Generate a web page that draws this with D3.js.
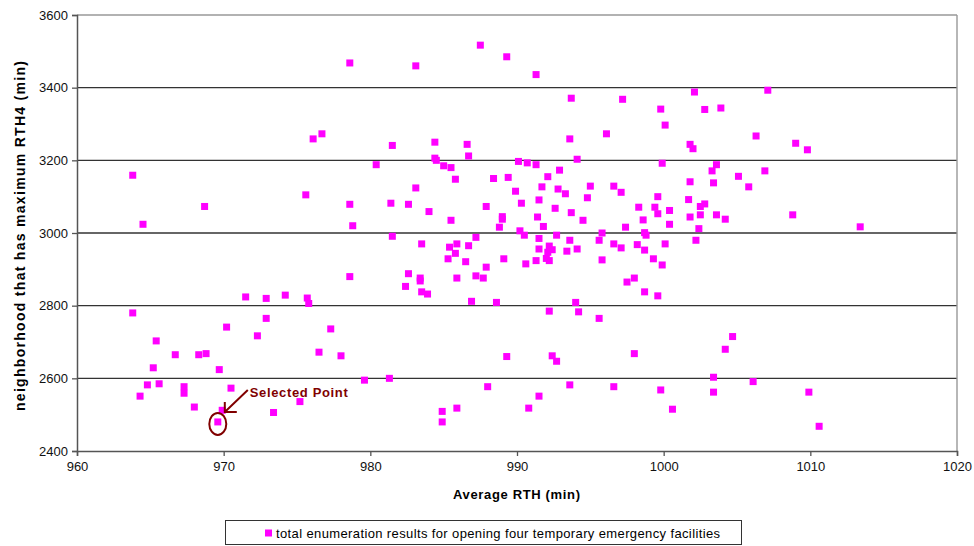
<!DOCTYPE html>
<html>
<head>
<meta charset="utf-8">
<script src="https://cdn.jsdelivr.net/npm/d3@7"></script>
<style>
  body { margin: 0; background: #fff; }
  svg { display: block; font-family: "Liberation Sans", Arial, sans-serif; }
</style>
</head>
<body>
<div id="chart"></div>
<script>
// average RTH (min)
const avgRTH = [
  963.8, 963.8, 964.5, 964.3, 964.8, 965.2, 965.4, 965.6, 966.7, 967.3,
  967.3, 968.0, 968.3, 968.7, 968.8, 969.7, 969.9, 969.6, 970.5, 970.2,
  971.5, 972.3, 972.9, 972.9, 973.4, 974.2, 975.2, 975.6, 975.7, 975.8,
  976.1, 976.5, 976.7, 977.3, 978.0, 978.6, 978.6, 978.6, 978.8, 979.6,
  980.4, 981.3, 981.4, 981.5, 981.5, 982.4, 982.6, 982.6, 983.1, 983.1,
  983.4, 983.4, 983.5, 983.5, 983.9, 984.0, 984.4, 984.4, 984.5, 984.9,
  984.9, 985.0, 985.4, 985.3, 985.5, 985.5, 985.8, 985.8, 985.9, 985.9,
  985.9, 986.5, 986.6, 986.7, 986.7, 986.9, 987.2, 987.2, 987.5, 987.7,
  987.9, 987.9, 988.0, 988.4, 988.6, 988.8, 989.0, 989.0, 989.1, 989.3,
  989.3, 989.4, 989.9, 990.1, 990.2, 990.3, 990.5, 990.6, 990.7, 990.8,
  991.3, 991.3, 991.3, 991.4, 991.5, 991.5, 991.5, 991.5, 991.7, 991.8,
  992.0, 992.1, 992.1, 992.2, 992.2, 992.2, 992.4, 992.4, 992.6, 992.7,
  992.7, 992.8, 992.9, 993.3, 993.4, 993.6, 993.6, 993.6, 993.7, 993.7,
  994.0, 994.1, 994.1, 994.2, 994.5, 994.8, 995.0, 995.6, 995.6, 995.8,
  995.8, 996.1, 996.6, 996.6, 996.6, 997.1, 997.1, 997.2, 997.4, 997.5,
  998.0, 998.0, 998.2, 998.3, 998.6, 998.7, 998.8, 998.7, 998.7, 999.3,
  999.4, 999.6, 999.6, 999.6, 999.8, 999.8, 999.9, 999.9, 1000.1, 1000.1,
  1000.4, 1000.4, 1000.6, 1001.7, 1001.8, 1001.8, 1001.8, 1002.0, 1002.1, 1002.2,
  1002.4, 1002.5, 1002.5, 1002.8, 1002.8, 1003.3, 1003.4, 1003.4, 1003.4, 1003.6,
  1003.6, 1003.9, 1004.2, 1004.2, 1004.7, 1005.1, 1005.8, 1006.1, 1006.3, 1006.9,
  1007.1, 1008.8, 1009.0, 1009.8, 1009.9, 1010.6, 1013.4
];
// maximum RTH4 of the worst neighborhood (min)
const maxRTH4 = [
  3159, 2780, 3024, 2551, 2582, 2629, 2703, 2585, 2665, 2577,
  2559, 2521, 2665, 3073, 2668, 2624, 2512, 2480, 2573, 2741,
  2824, 2717, 2820, 2765, 2506, 2829, 2536, 3105, 2821, 2806,
  3259, 2672, 3273, 2736, 2662, 3468, 3079, 2880, 3020, 2595,
  3188, 2600, 3082, 3241, 2991, 2853, 3079, 2888, 3460, 3124,
  2876, 2868, 2970, 2838, 2832, 3059, 3250, 3206, 3200, 2509,
  2480, 3185, 2961, 2929, 3180, 3035, 3148, 2944, 2970, 2876,
  2518, 2921, 3244, 3212, 2965, 2812, 2988, 2882, 3517, 2876,
  3073, 2906, 2577, 3150, 2809, 3016, 3045, 3038, 2929, 3485,
  2660, 3153, 3115, 3197, 3006, 3082, 2994, 2915, 3193, 2518,
  3436, 3188, 2924, 3044, 3091, 2985, 2956, 2551, 3127, 3018,
  2930, 3155, 2947, 2964, 2924, 2785, 2954, 2662, 3068, 2994,
  2647, 3121, 3173, 3108, 2950, 3259, 2980, 2582, 3371, 3056,
  2809, 3203, 2956, 2783, 3035, 3097, 3129, 2765, 2980, 3000,
  2926, 3273, 3129, 2970, 2577, 3112, 2959, 3368, 3016, 2865,
  2876, 2668, 2968, 3071, 3036, 3001, 2994, 2953, 2838, 2929,
  3071, 3100, 3053, 2827, 3341, 2568, 3192, 2912, 3297, 2970,
  3062, 3024, 2515, 3092, 3141, 3044, 3244, 3232, 3388, 2980,
  3012, 3073, 3050, 3080, 3340, 3171, 3138, 2603, 2562, 3188,
  3050, 3344, 3038, 2680, 2715, 3156, 3127, 2591, 3267, 3171,
  3393, 3050, 3247, 3229, 2562, 2468, 3017
];
const xTicks = [960, 970, 980, 990, 1000, 1010, 1020];
const yTicks = [2400, 2600, 2800, 3000, 3200, 3400, 3600];
const selectedIndex = 17;
const seriesName = "total enumeration results for opening four temporary emergency facilities";

const width = 974, height = 546;
const plotL = 77, plotR = 957, plotT = 15, plotB = 451;

const svg = d3.select("#chart").append("svg")
    .attr("width", width)
    .attr("height", height);

const x = d3.scaleLinear().domain([960, 1020]).range([plotL, plotR]);
const y = d3.scaleLinear().domain([2400, 3600]).range([plotB, plotT]);

// gridlines
svg.append("g")
  .selectAll("line")
  .data(yTicks.slice(1))
  .join("line")
    .attr("x1", plotL).attr("x2", plotR)
    .attr("y1", d => y(d)).attr("y2", d => y(d))
    .attr("stroke", d => d == 3600 ? "#999" : "#333")
    .attr("stroke-width", 1.4);

// right border
svg.append("line")
    .attr("x1", plotR).attr("x2", plotR)
    .attr("y1", plotT).attr("y2", plotB)
    .attr("stroke", "#999").attr("stroke-width", 1.4);

const xAxis = svg.append("g")
    .attr("transform", `translate(0,${plotB})`)
    .call(d3.axisBottom(x).tickValues(xTicks).tickSize(5).tickPadding(6).tickFormat(d3.format("d")));
const yAxis = svg.append("g")
    .attr("transform", `translate(${plotL},0)`)
    .call(d3.axisLeft(y).tickValues(yTicks).tickSize(5).tickPadding(4).tickFormat(d3.format("d")));

[xAxis, yAxis].forEach(a => {
  a.select(".domain").attr("stroke", "#555").attr("stroke-width", 1.5);
  a.selectAll(".tick line").attr("stroke", "#555").attr("stroke-width", 1.3);
  a.selectAll(".tick text")
    .attr("fill", "#111")
    .style("font-size", "13px")
    .style("font-family", "'Liberation Sans', Arial, sans-serif");
});

// points
const pts = avgRTH.map((v, i) => [v, maxRTH4[i]]);
svg.append("g")
  .selectAll("rect")
  .data(pts)
  .join("rect")
    .attr("x", d => x(d[0]) - 3.5)
    .attr("y", d => y(d[1]) - 3.5)
    .attr("width", 7)
    .attr("height", 7)
    .attr("fill", "#ff00ff");

// annotation for the selected point
const sx = x(avgRTH[selectedIndex]), sy = y(maxRTH4[selectedIndex]);
const annot = svg.append("g").attr("fill", "none").attr("stroke", "#800000").attr("stroke-width", 2);
annot.append("ellipse")
    .attr("cx", sx).attr("cy", sy + 2)
    .attr("rx", 8.5).attr("ry", 11);
annot.append("path")
    .attr("d", `M${sx + 30},${sy - 32} L${sx + 7},${sy - 10} M${sx + 7},${sy - 20} L${sx + 7},${sy - 10} L${sx + 19},${sy - 10}`);
svg.append("text")
    .attr("x", sx + 32).attr("y", sy - 25)
    .attr("fill", "#800000")
    .attr("textLength", 98).attr("lengthAdjust", "spacing")
    .style("font-size", "13px")
    .style("font-weight", "bold")
    .text("Selected Point");

// axis titles
svg.append("text")
    .attr("x", (plotL + plotR) / 2 - 0.5).attr("y", 499)
    .attr("text-anchor", "middle")
    .attr("textLength", 127).attr("lengthAdjust", "spacing")
    .style("font-size", "13px").style("font-weight", "bold")
    .text("Average RTH (min)");
svg.append("text")
    .attr("transform", `translate(25,${(plotT + plotB) / 2 + 3}) rotate(-90)`)
    .attr("text-anchor", "middle")
    .attr("textLength", 350).attr("lengthAdjust", "spacing")
    .style("font-size", "14px").style("font-weight", "bold")
    .text("neighborhood that has maximum RTH4 (min)");

// legend
const lg = svg.append("g");
lg.append("rect")
    .attr("x", 225.5).attr("y", 520.5)
    .attr("width", 516).attr("height", 24)
    .attr("fill", "#fff").attr("stroke", "#333").attr("stroke-width", 1);
lg.append("rect")
    .attr("x", 265).attr("y", 529.5)
    .attr("width", 7).attr("height", 7)
    .attr("fill", "#ff00ff");
lg.append("text")
    .attr("x", 276).attr("y", 537.5)
    .attr("textLength", 444).attr("lengthAdjust", "spacing")
    .style("font-size", "13px")
    .text(seriesName);
</script>
</body>
</html>
